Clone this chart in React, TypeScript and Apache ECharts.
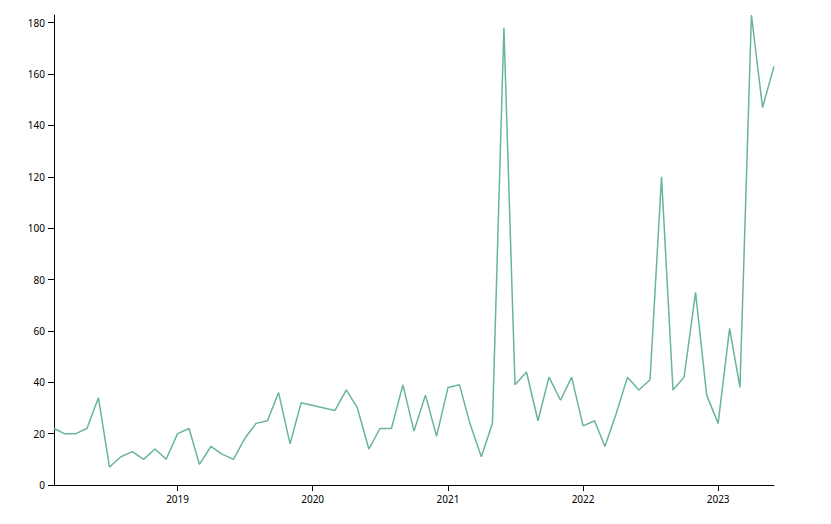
import React, { useEffect, useRef } from "react";
import * as echarts from "echarts";

const dates: string[] = [
  "2018-02-01", "2018-03-01", "2018-04-01", "2018-05-01", "2018-06-01", "2018-07-01",
  "2018-08-01", "2018-09-01", "2018-10-01", "2018-11-01", "2018-12-01",
  "2019-01-01", "2019-02-01", "2019-03-01", "2019-04-01", "2019-05-01", "2019-06-01",
  "2019-07-01", "2019-08-01", "2019-09-01", "2019-10-01", "2019-11-01", "2019-12-01",
  "2020-03-01", "2020-04-01", "2020-05-01", "2020-06-01", "2020-07-01", "2020-08-01",
  "2020-09-01", "2020-10-01", "2020-11-01", "2020-12-01",
  "2021-01-01", "2021-02-01", "2021-03-01", "2021-04-01", "2021-05-01", "2021-06-01",
  "2021-07-01", "2021-08-01", "2021-09-01", "2021-10-01", "2021-11-01", "2021-12-01",
  "2022-01-01", "2022-02-01", "2022-03-01", "2022-04-01", "2022-05-01", "2022-06-01",
  "2022-07-01", "2022-08-01", "2022-09-01", "2022-10-01", "2022-11-01", "2022-12-01",
  "2023-01-01", "2023-02-01", "2023-03-01", "2023-04-01", "2023-05-01", "2023-06-01",
];

const values: number[] = [
  22, 20, 20, 22, 34, 7,
  11, 13, 10, 14, 10,
  20, 22, 8, 15, 12, 10,
  18, 24, 25, 36, 16, 32,
  29, 37, 30, 14, 22, 22,
  39, 21, 35, 19,
  38, 39, 24, 11, 24, 178,
  39, 44, 25, 42, 33, 42,
  23, 25, 15, 28, 42, 37,
  41, 120, 37, 42, 75, 35,
  24, 61, 38, 183, 147, 163,
];

const xMin = "2018-02-01";
const xMax = "2023-06-01";
const yMax = 183;

const FONT = "Noto Sans";

export default function App() {
  const ref = useRef<HTMLDivElement>(null);
  useEffect(() => {
    if (!ref.current) return;
    const chart = echarts.init(ref.current, undefined, { renderer: "svg" });
    const YEAR = 365 * 24 * 3600 * 1000;
    chart.setOption({
      animation: false,
      grid: { left: 54, right: 57, top: 15, bottom: 39, containLabel: false },
      xAxis: {
        type: "time",
        min: xMin,
        max: xMax,
        minInterval: YEAR,
        maxInterval: YEAR,
        splitLine: { show: false },
        axisLine: { show: true, lineStyle: { color: "#000", width: 1 } },
        axisTick: { show: true, length: 6, lineStyle: { color: "#000" } },
        axisLabel: {
          margin: 9,
          color: "#000",
          fontSize: 10,
          fontFamily: FONT,
          hideOverlap: false,
          formatter: (v: number) => {
            const d = new Date(v);
            return d.getMonth() === 0 && d.getDate() === 1 ? String(d.getFullYear()) : "";
          },
        },
      },
      yAxis: {
        type: "value",
        min: 0,
        max: yMax,
        interval: 20,
        splitLine: { show: false },
        axisLine: { show: true, lineStyle: { color: "#000", width: 1 } },
        axisTick: { show: true, length: 6, lineStyle: { color: "#000" } },
        axisLabel: {
          margin: 9,
          color: "#000",
          fontSize: 10,
          fontFamily: FONT,
          showMaxLabel: false,
        },
      },
      series: [
        {
          type: "line",
          data: dates.map((d, i) => [d, values[i]]),
          showSymbol: false,
          symbol: "none",
          lineStyle: { color: "#69b3a2", width: 1.5 },
          itemStyle: { color: "#69b3a2" },
        },
      ],
    });
    return () => chart.dispose();
  }, []);
  return <div ref={ref} style={{ width: 831, height: 524, position: "absolute", left: 0, top: 0 }} />;
}
